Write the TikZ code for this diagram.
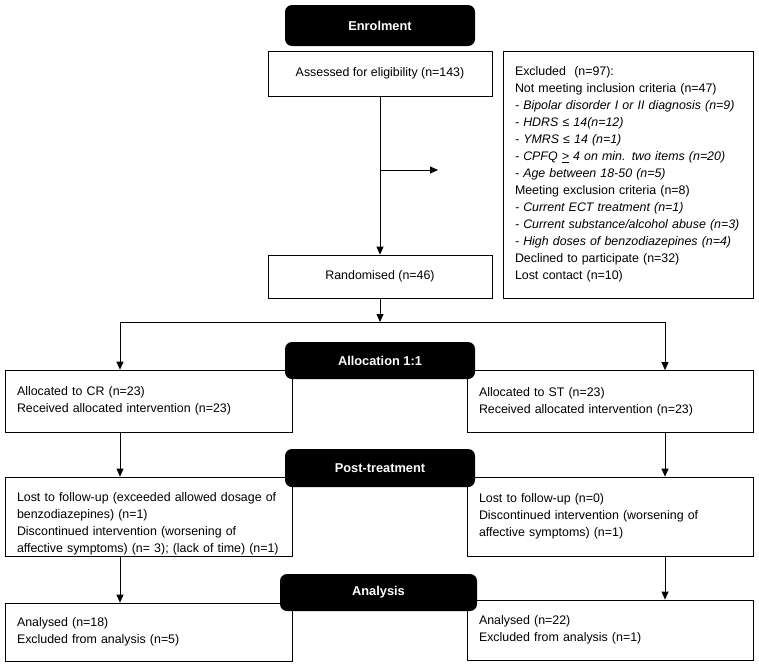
\documentclass[tikz,border=0pt]{standalone}
\usepackage{fontspec}
\setmainfont{Liberation Sans}
\usepackage{tikz}
\usetikzlibrary{arrows.meta}
\tikzset{
    flow-box/.style = {draw=black, fill=white, line width=0.8pt, rectangle, inner sep=0pt, font=\fontsize{12.4}{17}\selectfont},
    list-box/.style = {flow-box, align=left, inner xsep=12pt, text width=#1},
    head-box/.style = {fill=black, text=white, rectangle, rounded corners=7pt, font=\fontsize{12.8}{14}\selectfont\bfseries},
    flow-arrow/.style = {line width=0.8pt, -{Triangle[length=8pt,width=7pt]}},
}

\begin{document}
\begin{tikzpicture}[x=1pt, y=-1pt]
\useasboundingbox (0,0) rectangle (759,667);
\coordinate (left-col) at (120,0);
\coordinate (right-col) at (665,0);
\node [flow-box, minimum width=224pt, minimum height=45pt] (assess) at (380,73.5) {Assessed for eligibility (n=143)};
\node [flow-box, minimum width=224pt, minimum height=43pt] (random) at (380,276.5) {Randomised (n=46)};
\node [list-box=226pt, minimum height=247pt] (excl) at (628,174.5) {Excluded~ (n=97):\\
    Not meeting inclusion criteria (n=47)\\
    \textit{- Bipolar disorder I or II diagnosis (n=9)}\\
    \textit{- HDRS ≤ 14(n=12)}\\
    \textit{- YMRS ≤ 14 (n=1)}\\
    \textit{- CPFQ \underline{>} 4 on min. two items (n=20)}\\
    \textit{- Age between 18-50 (n=5)}\\
    Meeting exclusion criteria (n=8)\\
    \textit{- Current ECT treatment (n=1)}\\
    \textit{- Current substance/alcohol abuse (n=3)}\\
    \textit{- High doses of benzodiazepines (n=4)}\\
    Declined to participate (n=32)\\
    Lost contact (n=10)};
\node [list-box=263pt, minimum height=62pt] (cr-alloc) at (148.5,401) {Allocated to CR (n=23)\\
    Received allocated intervention (n=23)};
\node [list-box=262pt, minimum height=62pt] (st-alloc) at (610,401.5) {Allocated to ST (n=23)\\
    Received allocated intervention (n=23)};
\node [list-box=263pt, minimum height=79pt] (cr-post) at (148.5,516.5) {\rule{0pt}{23pt}Lost to follow-up (exceeded allowed dosage of\\
    benzodiazepines) (n=1)\\
    Discontinued intervention (worsening of\\
    affective symptoms) (n=~3); (lack of time) (n=1)};
\node [list-box=262pt, minimum height=79pt] (st-post) at (610,516.5) {Lost to follow-up (n=0)\\
    Discontinued intervention (worsening of\\
    affective symptoms) (n=1)};
\node [list-box=263pt, minimum height=58pt] (cr-anal) at (148.5,632) {Analysed (n=18)\\
    Excluded from analysis (n=5)};
\node [list-box=262pt, minimum height=60pt] (st-anal) at (610,630) {Analysed (n=22)\\
    Excluded from analysis (n=1)};
\node [head-box, minimum width=190pt, minimum height=41pt] (enrol) at (380,25.5) {Enrolment};
\node [head-box, minimum width=190pt, minimum height=37pt] (alloc) at (380,360.5) {Allocation 1:1};
\node [head-box, minimum width=190pt, minimum height=38pt] (post) at (380,468) {Post-treatment};
\node [head-box, minimum width=197pt, minimum height=37pt] (anal) at (378.5,592.5) {Analysis};
\coordinate (excl-in) at (438,170);
\coordinate (split) at (380,322);
\draw [flow-arrow] (assess) -- (random);
\draw [flow-arrow] (assess.south |- excl-in) -- (excl-in);
\draw [flow-arrow] (random) -- (split);
\draw [flow-arrow] (split) -| (left-col |- cr-alloc.north);
\draw [flow-arrow] (split) -| (right-col |- st-alloc.north);
\draw [flow-arrow] (left-col |- cr-alloc.south) -- (left-col |- cr-post.north);
\draw [flow-arrow] (right-col |- st-alloc.south) -- (right-col |- st-post.north);
\draw [flow-arrow] (left-col |- cr-post.south) -- (left-col |- cr-anal.north);
\draw [flow-arrow] (right-col |- st-post.south) -- (right-col |- st-anal.north);
\end{tikzpicture}
\end{document}
